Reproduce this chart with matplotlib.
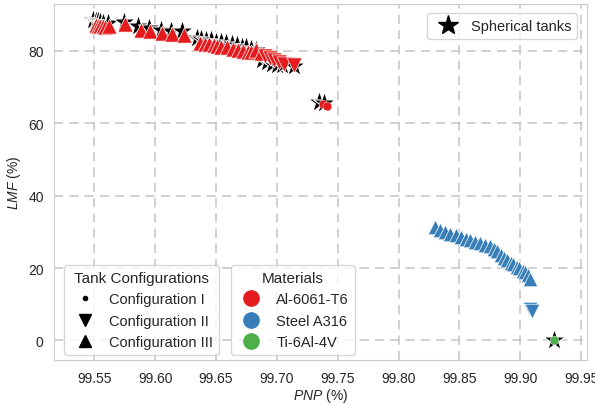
import matplotlib.pyplot as plt
import seaborn as sns
from matplotlib.lines import Line2D

sns.set_style("whitegrid", {"grid.linestyle": "--"})
plt.rcParams['font.family'] = ['Liberation Sans', 'DejaVu Sans']
plt.rcParams['mathtext.fontset'] = 'custom'
plt.rcParams['mathtext.it'] = 'Liberation Sans:italic'
plt.rcParams['mathtext.rm'] = 'Liberation Sans'

# couleurs Set1
c_al = "#e41a1c"
c_steel = "#377eb8"
c_ti = "#4daf4a"

# Al-6061-T6 - configuration III
al_up_pnp = [99.551, 99.553, 99.555, 99.557, 99.559, 99.562, 99.575, 99.588, 99.596,
             99.606, 99.614, 99.624,
             99.637, 99.641, 99.644, 99.648, 99.651, 99.654, 99.659, 99.664, 99.668,
             99.672, 99.676, 99.679, 99.683, 99.687]
al_up_lmf = [87.2, 87.0, 86.9, 86.8, 86.6, 87.0, 87.5, 85.8, 85.5,
             84.9, 84.6, 84.5,
             82.2, 82.0, 81.8, 81.7, 81.4, 81.2, 81.0, 80.5, 80.3,
             80.0, 79.8, 79.6, 80.2, 79.5]
# Al-6061-T6 - configuration II
al_down_pnp = [99.690, 99.694, 99.698, 99.702, 99.706, 99.714]
al_down_lmf = [78.6, 78.0, 77.4, 76.9, 76.4, 76.2]
# Al-6061-T6 - configuration I
al_dot_pnp = [99.738, 99.741]
al_dot_lmf = [65.2, 64.8]

# Steel A316
st_up_pnp = [99.830, 99.834, 99.838, 99.842, 99.847, 99.851, 99.855, 99.859, 99.863,
             99.867, 99.871, 99.875, 99.878, 99.881, 99.884, 99.887, 99.889, 99.892,
             99.894, 99.897, 99.899, 99.902, 99.904, 99.906, 99.908]
st_up_lmf = [31.4, 30.6, 30.0, 29.5, 29.0, 28.5, 28.1, 27.7, 27.3,
             26.9, 26.5, 26.0, 25.4, 24.6, 23.7, 22.9, 22.1, 21.5,
             21.0, 20.4, 19.9, 19.3, 18.8, 18.0, 17.1]
st_down_pnp = [99.908, 99.910]
st_down_lmf = [8.6, 8.2]

# Ti-6Al-4V
ti_dot_pnp = [99.928]
ti_dot_lmf = [0.1]

# reservoirs spheriques
sph_pnp = [99.549, 99.551, 99.553, 99.555, 99.557, 99.561, 99.574, 99.586, 99.595,
           99.605, 99.613, 99.622,
           99.634, 99.638, 99.642, 99.646, 99.650, 99.654, 99.658, 99.663, 99.667,
           99.671, 99.675, 99.679, 99.683,
           99.688, 99.692, 99.696, 99.700, 99.704, 99.714,
           99.735, 99.739, 99.928]
sph_lmf = [88.6, 88.4, 88.2, 88.0, 87.8, 87.6, 88.0, 86.8, 86.4,
           85.8, 85.6, 85.4,
           83.5, 83.3, 83.1, 82.9, 82.6, 82.4, 82.2, 81.8, 81.5,
           81.2, 81.0, 80.6, 80.3,
           77.5, 77.0, 76.5, 76.2, 76.0, 75.8,
           65.8, 65.6, 0.0]

fig = plt.figure(figsize=(5.95, 4.06), dpi=100)
ax = fig.add_axes([0.091, 0.11, 0.896, 0.878])

ax.scatter(sph_pnp, sph_lmf, marker="*", s=270, color="black", edgecolor="white", linewidth=0.8, zorder=2)
ax.scatter(al_up_pnp, al_up_lmf, marker="^", s=120, color=c_al, edgecolor="white", linewidth=0.5, zorder=3)
ax.scatter(al_down_pnp, al_down_lmf, marker="v", s=120, color=c_al, edgecolor="white", linewidth=0.5, zorder=3)
ax.scatter(al_dot_pnp, al_dot_lmf, marker="o", s=40, color=c_al, edgecolor="white", linewidth=0.3, zorder=3)
ax.scatter(st_up_pnp, st_up_lmf, marker="^", s=110, color=c_steel, edgecolor="white", linewidth=0.5, zorder=3)
ax.scatter(st_down_pnp, st_down_lmf, marker="v", s=110, color=c_steel, edgecolor="white", linewidth=0.5, zorder=3)
ax.scatter(ti_dot_pnp, ti_dot_lmf, marker="o", s=40, color=c_ti, edgecolor="white", linewidth=0.3, zorder=3)

ax.set_xlim(99.517, 99.955)
ax.set_ylim(-5.5, 93)
ax.set_xticks([99.55, 99.60, 99.65, 99.70, 99.75, 99.80, 99.85, 99.90, 99.95])
ax.set_xticklabels([f"{v:.2f}" for v in ax.get_xticks()])
ax.set_yticks([0, 20, 40, 60, 80])
ax.tick_params(labelsize=10, pad=4)
ax.grid(True, linestyle=(0, (6, 4)), color="#c4c4c4", linewidth=1.1)
ax.set_xlabel(r"$\mathit{PNP}$ (%)", fontsize=10, labelpad=1)
ax.set_ylabel(r"$\mathit{LMF}$ (%)", fontsize=10)
for sp in ax.spines.values():
    sp.set_color("#cccccc")

# legendes
h_sph = [Line2D([], [], marker="*", linestyle="", color="black", markersize=15)]
leg1 = ax.legend(h_sph, ["Spherical tanks"], loc="upper right", bbox_to_anchor=(0.995, 0.995),
                 fontsize=10.5, handletextpad=0.6)
ax.add_artist(leg1)

h_conf = [Line2D([], [], marker=".", linestyle="", color="black", markersize=6),
          Line2D([], [], marker="v", linestyle="", color="black", markersize=8),
          Line2D([], [], marker="^", linestyle="", color="black", markersize=8)]
leg2 = ax.legend(h_conf, ["Configuration I", "Configuration II", "Configuration III"],
                 title="Tank Configurations", loc="lower left", bbox_to_anchor=(0.005, -0.005),
                 fontsize=10.5, title_fontsize=11, labelspacing=0.5, handletextpad=0.7)
ax.add_artist(leg2)

h_mat = [Line2D([], [], marker="o", linestyle="", color=c_al, markersize=11),
         Line2D([], [], marker="o", linestyle="", color=c_steel, markersize=11),
         Line2D([], [], marker="o", linestyle="", color=c_ti, markersize=11)]
ax.legend(h_mat, ["Al-6061-T6", "Steel A316", "Ti-6Al-4V"], title="Materials",
          loc="lower left", bbox_to_anchor=(0.318, -0.005),
          fontsize=10.5, title_fontsize=11, labelspacing=0.5, handletextpad=0.7)

fig.savefig("out.png", dpi=100)
